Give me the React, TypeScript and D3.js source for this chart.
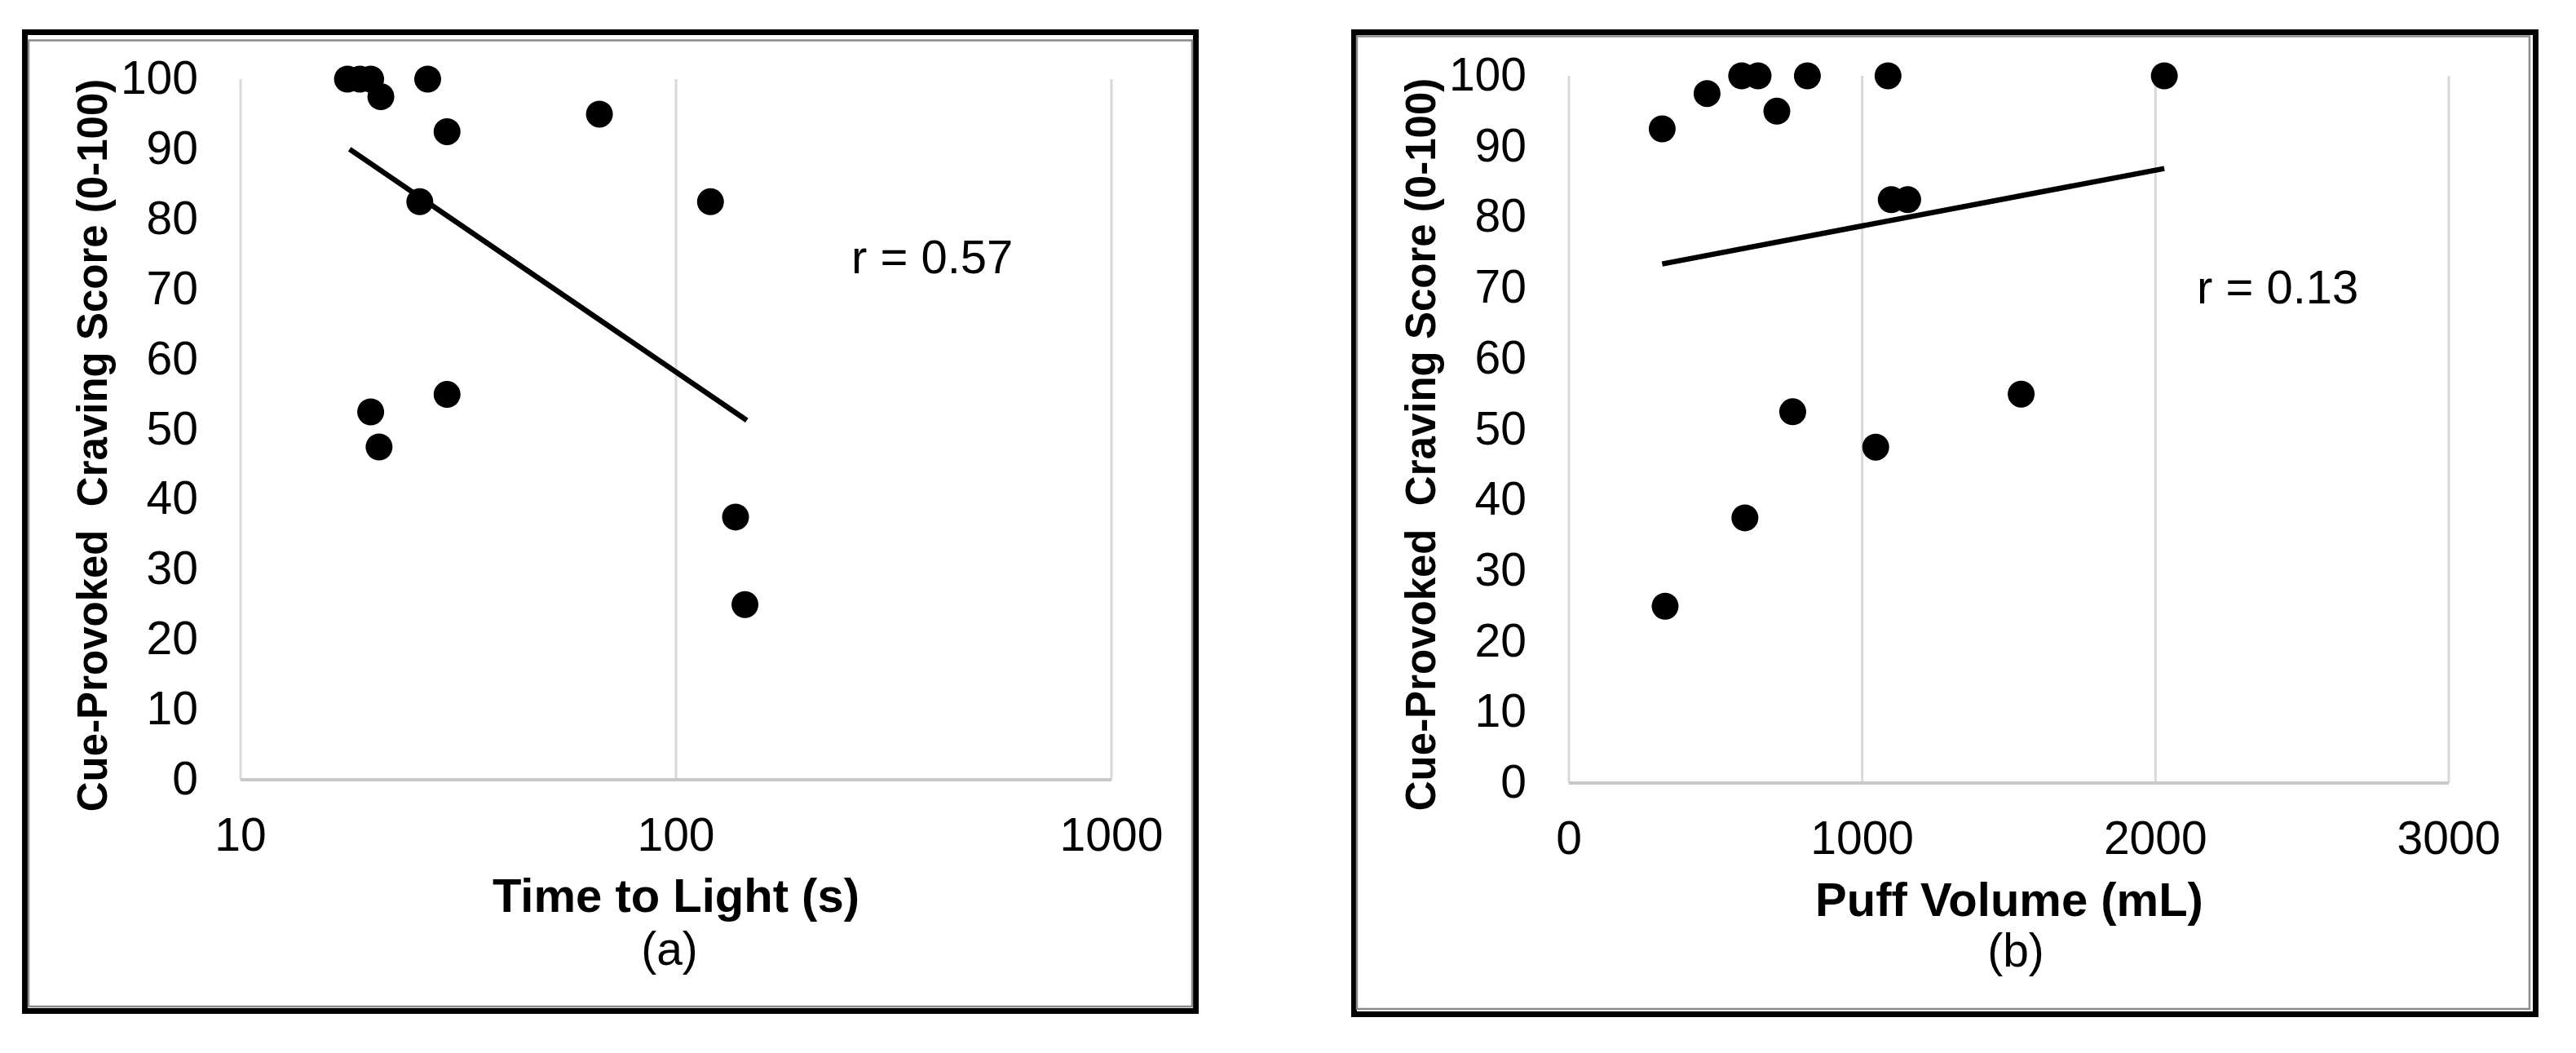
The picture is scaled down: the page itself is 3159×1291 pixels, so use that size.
import React from "react";
import * as d3 from "d3";

// ---------- Data ----------
const timeToLight = [17.6, 18.8, 19.9, 21.0, 26.9, 29.8, 25.8, 66.7, 120, 19.9, 20.8, 29.8, 137, 144];
const cravingA = [100, 100, 100, 97.5, 100, 92.5, 82.5, 95, 82.5, 52.5, 47.5, 55, 37.5, 25];
const trendAX = [17.8, 145.4];
const trendAY = [90.0, 51.3];

const puffVolume = [318, 471, 589, 645, 709, 813, 1088, 2030, 1099, 1155, 763, 1046, 1542, 600, 328];
const cravingB = [92.5, 97.5, 100, 100, 95, 100, 100, 100, 82.5, 82.5, 52.5, 47.5, 55, 37.5, 25];
const trendBX = [318, 2030];
const trendBY = [73.4, 86.9];

const yTicks = [0, 10, 20, 30, 40, 50, 60, 70, 80, 90, 100];
const xTicksA = [10, 100, 1000];
const xTicksB = [0, 1000, 2000, 3000];

const yTitle = "Cue-Provoked  Craving Score (0-100)";
const xTitleA = "Time to Light (s)";
const xTitleB = "Puff Volume (mL)";
const capA = "(a)";
const capB = "(b)";
const rA = "r = 0.57";
const rB = "r = 0.13";

const FONT = "'Liberation Sans', Arial, Helvetica, sans-serif";

type PanelProps = {
  frame: { x0: number; y0: number; x1: number; y1: number; gray: { x0: number; y0: number; x1: number; y1: number } };
  x: any;
  y: d3.ScaleLinear<number, number>;
  xTicks: number[];
  xs: number[];
  ys: number[];
  tx: number[];
  ty: number[];
  xTitle: string;
  cap: string;
  rText: string;
  rPos: [number, number];
  yTitlePos: [number, number];
  xTitlePos: [number, number];
  capPos: [number, number];
};

function Panel(p: PanelProps) {
  const [xl, xr] = p.x.range();
  const [yb, yt] = p.y.range();
  const line = d3
    .line<[number, number]>()
    .x((d) => p.x(d[0]))
    .y((d) => p.y(d[1]));
  const trend: [number, number][] = p.tx.map((v, i) => [v, p.ty[i]]);
  const f = p.frame;
  return (
    <g>
      {/* frame */}
      <rect
        x={f.x0 + 3.5}
        y={f.y0 + 3.5}
        width={f.x1 - f.x0 - 7}
        height={f.y1 - f.y0 - 7}
        fill="none"
        stroke="#000"
        strokeWidth={7}
      />
      <rect
        x={f.gray.x0}
        y={f.gray.y0}
        width={f.gray.x1 - f.gray.x0}
        height={f.gray.y1 - f.gray.y0}
        fill="none"
        stroke="#8a8a8a"
        strokeWidth={2.5}
      />
      {/* gridlines */}
      {p.xTicks.map((t) => (
        <line key={"g" + t} x1={p.x(t)} x2={p.x(t)} y1={yt} y2={yb} stroke="#d9d9d9" strokeWidth={3} />
      ))}
      <line x1={xl} x2={xr} y1={yb} y2={yb} stroke="#c8c8c8" strokeWidth={4} />
      {/* y tick labels */}
      {yTicks.map((t) => (
        <text
          key={"y" + t}
          x={xl - 52}
          y={p.y(t) + 18}
          textAnchor="end"
          fontFamily={FONT}
          fontSize={57}
          fill="#000"
        >
          {t}
        </text>
      ))}
      {/* x tick labels */}
      {p.xTicks.map((t) => (
        <text
          key={"x" + t}
          x={p.x(t)}
          y={yb + 87}
          textAnchor="middle"
          fontFamily={FONT}
          fontSize={57}
          fill="#000"
        >
          {t}
        </text>
      ))}
      {/* trend line */}
      <path d={line(trend) || ""} fill="none" stroke="#000" strokeWidth={6.5} />
      {/* points */}
      {p.xs.map((v, i) => (
        <circle key={"p" + i} cx={p.x(v)} cy={p.y(p.ys[i])} r={16.5} fill="#000" />
      ))}
      {/* r text */}
      <text x={p.rPos[0]} y={p.rPos[1]} fontFamily={FONT} fontSize={58} fill="#000">
        {p.rText}
      </text>
      {/* y title */}
      <text
        transform={`translate(${p.yTitlePos[0]},${p.yTitlePos[1]}) rotate(-90)`}
        textAnchor="middle"
        fontFamily={FONT}
        fontSize={51}
        fontWeight="bold"
        fill="#000"
        style={{ whiteSpace: "pre" }}
      >
        {yTitle}
      </text>
      {/* x title */}
      <text
        x={p.xTitlePos[0]}
        y={p.xTitlePos[1]}
        textAnchor="middle"
        fontFamily={FONT}
        fontSize={58}
        fontWeight="bold"
        fill="#000"
      >
        {p.xTitle}
      </text>
      <text x={p.capPos[0]} y={p.capPos[1]} textAnchor="middle" fontFamily={FONT} fontSize={57} fill="#000">
        {p.cap}
      </text>
    </g>
  );
}

export default function App() {
  const W = 3159;
  const H = 1291;

  const xA = d3.scaleLog().domain([10, 1000]).range([295, 1363]);
  const yA = d3.scaleLinear().domain([0, 100]).range([956, 97]);
  const xB = d3.scaleLinear().domain([0, 3000]).range([1924, 3003]);
  const yB = d3.scaleLinear().domain([0, 100]).range([960, 93]);

  return (
    <svg
      width={W}
      height={H}
      viewBox={`0 0 ${W} ${H}`}
      style={{ position: "absolute", left: 0, top: 0, background: "#fff" }}
    >
      <rect x={0} y={0} width={W} height={H} fill="#fff" />
      <Panel
        frame={{ x0: 27, y0: 36, x1: 1470, y1: 1243, gray: { x0: 35, y0: 49.5, x1: 1462, y1: 1234 } }}
        x={xA}
        y={yA}
        xTicks={xTicksA}
        xs={timeToLight}
        ys={cravingA}
        tx={trendAX}
        ty={trendAY}
        xTitle={xTitleA}
        cap={capA}
        rText={rA}
        rPos={[1044, 335]}
        yTitlePos={[131, 546]}
        xTitlePos={[829, 1118]}
        capPos={[821, 1183]}
      />
      <Panel
        frame={{ x0: 1657, y0: 36, x1: 3113, y1: 1247, gray: { x0: 1664, y0: 44.5, x1: 3102, y1: 1237 } }}
        x={xB}
        y={yB}
        xTicks={xTicksB}
        xs={puffVolume}
        ys={cravingB}
        tx={trendBX}
        ty={trendBY}
        xTitle={xTitleB}
        cap={capB}
        rText={rB}
        rPos={[2694, 372]}
        yTitlePos={[1760, 545]}
        xTitlePos={[2464, 1123]}
        capPos={[2472, 1185]}
      />
    </svg>
  );
}
